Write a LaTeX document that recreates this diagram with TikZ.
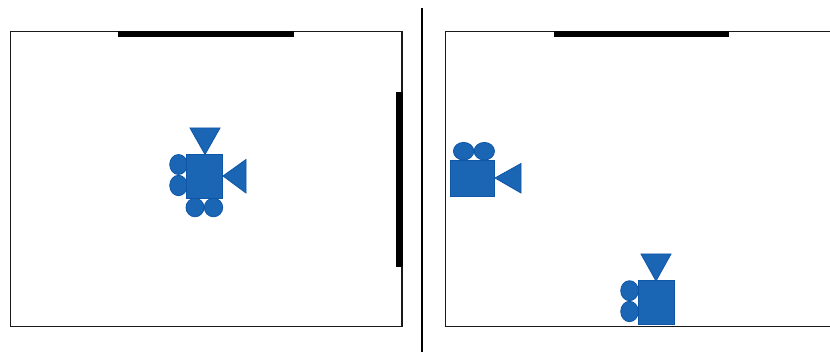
\documentclass[tikz,border=0pt]{standalone}
\tikzset{
  room/.style={draw=black!90,line width=1.3pt},
  wallbar/.style={fill=black,draw=none},
  divider/.style={draw=black,line width=2.7pt},
  cam/.style={fill=camfill,draw=camedge,line width=0.8pt,line join=miter}
}
\definecolor{camfill}{HTML}{1A66B4}
\definecolor{camedge}{HTML}{0F56A6}
\begin{document}
\begin{tikzpicture}[x=1pt,y=-1pt]
\useasboundingbox (0,0) rectangle (830,352);
\fill[white] (0,0) rectangle (830,352);
% left room
\draw[room] (10.5,31.7) rectangle (402,326.8);
\fill[wallbar] (118,31) rectangle (294,37.5);
\fill[wallbar] (396,92) rectangle (402.5,267);
% divider
\draw[divider] (422,8) -- (422,352);
% right room
\draw[room] (835,31.7) -- (445.5,31.7) -- (445.5,326.8) -- (835,326.8);
\fill[wallbar] (554,31) rectangle (729,37.5);
% camera 1
\draw[cam] (178.5,164.5) ellipse [x radius=8.8,y radius=10];
\draw[cam] (178.5,185.5) ellipse [x radius=8.8,y radius=10.2];
\draw[cam] (195,207.5) ellipse [x radius=9,y radius=9.3];
\draw[cam] (213.5,207.5) ellipse [x radius=9.2,y radius=9.3];
\draw[cam] (186.5,154.5) rectangle (222.7,198.2);
\draw[cam] (190,128) -- (220,128) -- (205,154.5) -- cycle;
\draw[cam] (246,159.5) -- (246,193) -- (223,176) -- cycle;
% camera 2
\draw[cam] (463.6,151.2) ellipse [x radius=10.2,y radius=8.8];
\draw[cam] (484.3,151.2) ellipse [x radius=10.2,y radius=8.8];
\draw[cam] (450.8,160) rectangle (494.2,196);
\draw[cam] (521,163.5) -- (521,193) -- (495,178) -- cycle;
% camera 3
\draw[cam] (629.5,290.7) ellipse [x radius=8.8,y radius=10];
\draw[cam] (629.5,311.5) ellipse [x radius=8.8,y radius=10.2];
\draw[cam] (638,280.5) rectangle (674.2,324);
\draw[cam] (641,254) -- (671,254) -- (656,281) -- cycle;
\end{tikzpicture}
\end{document}
